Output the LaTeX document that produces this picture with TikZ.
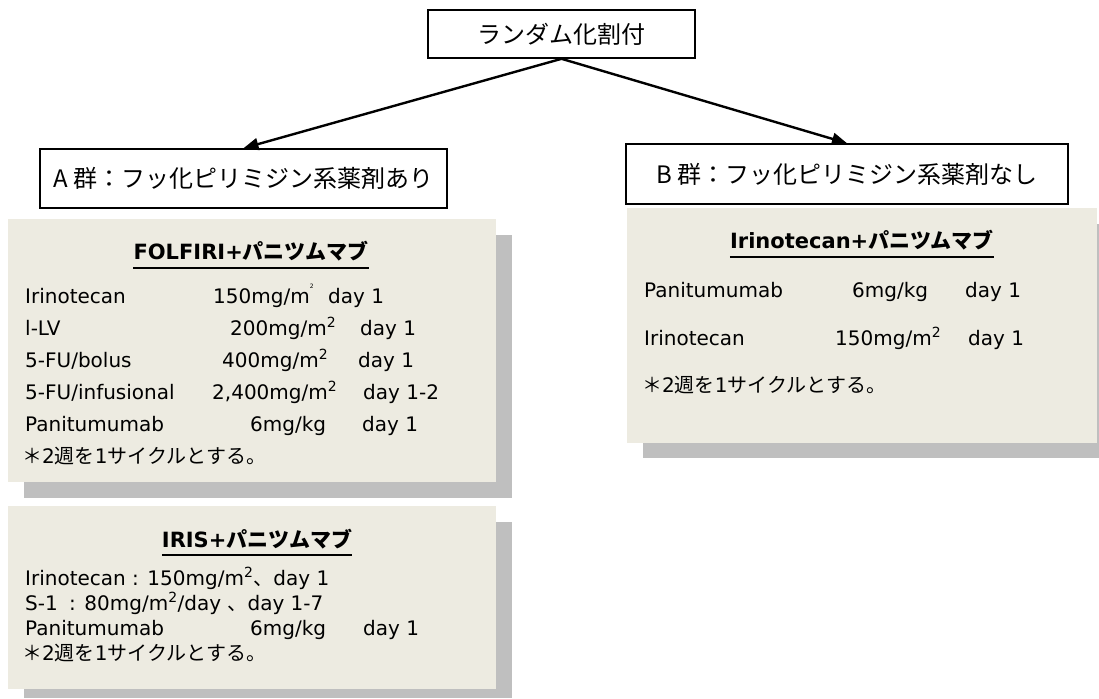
\documentclass[tikz,border=0pt]{standalone}
\usepackage{fontspec}
\setmainfont{DejaVu Sans}
\newfontfamily\jp{Noto Sans CJK JP}
\usetikzlibrary{arrows.meta}
\definecolor{panelc}{HTML}{EDEBE1}
\definecolor{shadowc}{HTML}{BFBFBF}
\newcommand\mtwo{mg/m\textsuperscript{2}}
\begin{document}
\begin{tikzpicture}[x=1pt,y=-1pt,
  box/.style={draw=black,line width=1.6pt,fill=white,inner sep=0pt,font=\jp\fontsize{24}{28}\selectfont},
  txt/.style={anchor=base west,inner sep=0pt,font=\fontsize{20}{24}\selectfont},
  ttl/.style={anchor=base,inner sep=0pt,font=\bfseries\fontsize{21}{24}\selectfont},
  uline/.style={line width=1.5pt},
  arr/.style={line width=2.4pt,-{Triangle[length=15pt,width=12pt]}},
  panel/.style={fill=panelc},
  shadow/.style={fill=shadowc}
  ]
\useasboundingbox (0,0) rectangle (1099,698);

% panels
\fill[shadow] (24,235) rectangle (512,498);
\fill[panel] (8,219) rectangle (496,482);
\fill[shadow] (24,522) rectangle (512,698);
\fill[panel] (8,506) rectangle (496,689);
\fill[shadow] (643,224) rectangle (1099,458);
\fill[panel] (627,208) rectangle (1097,443);

% boxes
\node[box,minimum width=267pt,minimum height=48pt] (top) at (561.5,34) {ランダム化割付};
\node[box,minimum width=407pt,minimum height=59pt] (A) at (243.5,178.5) {A 群：フッ化ピリミジン系薬剤あり};
\node[box,minimum width=442pt,minimum height=60pt] (B) at (847,174) {B 群：フッ化ピリミジン系薬剤なし};

\draw[arr] (top.south) -- (A.north);
\draw[arr] (top.south) -- (B.north);

% FOLFIRI panel
\node[ttl] (t1) at (251,259) {FOLFIRI+{\jp パニツムマブ}};
\coordinate (u1) at (0,268);
\draw[uline] (t1.west |- u1) -- (t1.east |- u1);
\node[txt] (a1) at (25,303) {Irinotecan};
\node[txt] (a1b) at (213,303) {150mg/m\raisebox{0.75em}{\fontsize{6}{6}\selectfont 2}};
\node[txt] (a1c) at (328,303) {day 1};
\node[txt] (a2) at (25,335) {l-LV};
\node[txt] (a2b) at (230,335) {200\mtwo};
\node[txt] (a2c) at (360,335) {day 1};
\node[txt] (a3) at (25,367) {5-FU/bolus};
\node[txt] (a3b) at (222,367) {400\mtwo};
\node[txt] (a3c) at (358,367) {day 1};
\node[txt] (a4) at (25,399) {5-FU/infusional};
\node[txt] (a4b) at (212,399) {2,400\mtwo};
\node[txt] (a4c) at (363,399) {day 1-2};
\node[txt] (a5) at (25,431) {Panitumumab};
\node[txt] (a5b) at (250,431) {6mg/kg};
\node[txt] (a5c) at (362,431) {day 1};
\node[txt] (a6) at (22,463) {{\jp ＊}2{\jp 週を}1{\jp サイクルとする。}};

% IRIS panel
\node[ttl] (t2) at (257,547) {IRIS+{\jp パニツムマブ}};
\coordinate (u2) at (0,555);
\draw[uline] (t2.west |- u2) -- (t2.east |- u2);
\node[txt] (i1) at (25,585) {Irinotecan : 150\mtwo{\jp 、}day 1};
\node[txt] (i2) at (25,610) {S-1};
\node[txt] (i2b) at (69,610) {: 80\mtwo/day {\jp 、}day 1-7};
\node[txt] (i3) at (25,635) {Panitumumab};
\node[txt] (i3b) at (250,635) {6mg/kg};
\node[txt] (i3c) at (363,635) {day 1};
\node[txt] (i4) at (22,660) {{\jp ＊}2{\jp 週を}1{\jp サイクルとする。}};

% B panel
\node[ttl] (t3) at (862,248) {Irinotecan+{\jp パニツムマブ}};
\coordinate (u3) at (0,257);
\draw[uline] (t3.west |- u3) -- (t3.east |- u3);
\node[txt] (b1) at (644,297) {Panitumumab};
\node[txt] (b1b) at (852,297) {6mg/kg};
\node[txt] (b1c) at (965,297) {day 1};
\node[txt] (b2) at (644,345) {Irinotecan};
\node[txt] (b2b) at (835,345) {150\mtwo};
\node[txt] (b2c) at (968,345) {day 1};
\node[txt] (b3) at (642,392) {{\jp ＊}2{\jp 週を}1{\jp サイクルとする。}};
\end{tikzpicture}
\end{document}
